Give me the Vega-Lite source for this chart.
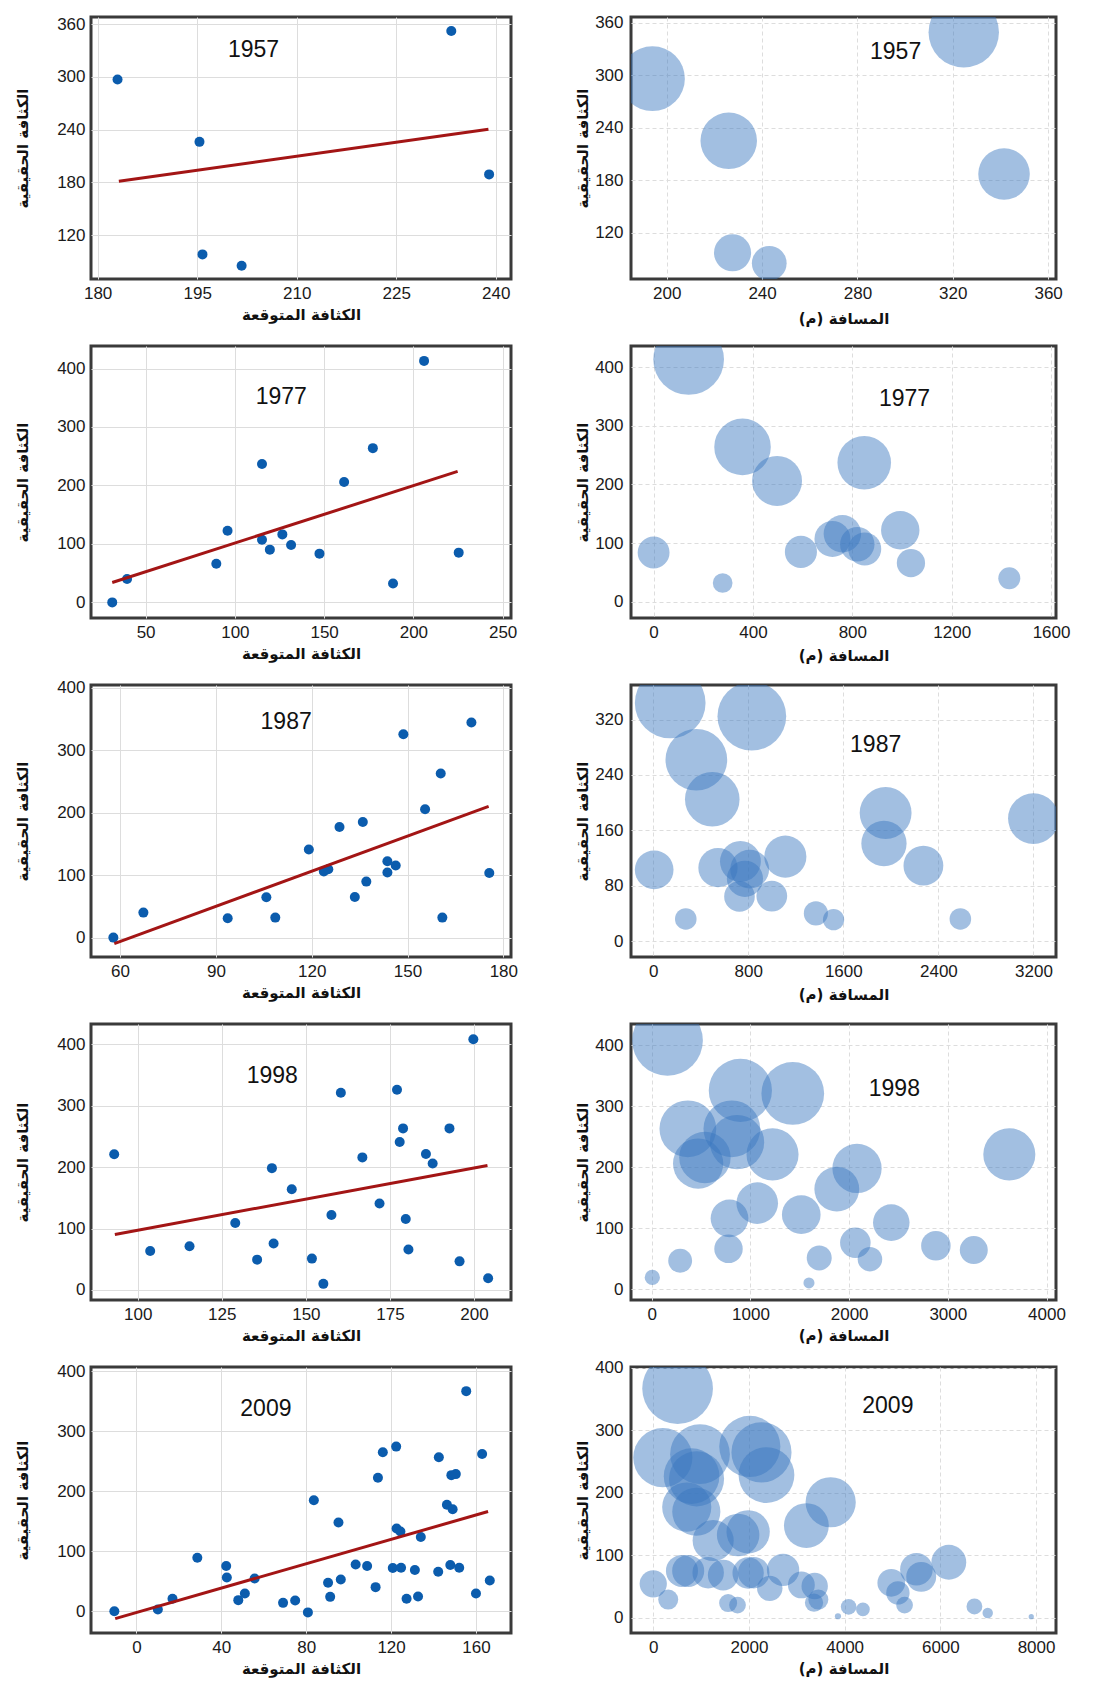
{
"$schema": "https://vega.github.io/schema/vega-lite/v6.json",
"padding": {"left": 14, "top": 12, "right": 5, "bottom": 0},
"background": "white",
"columns": 2,
"align": "each",
"bounds": "flush",
"spacing": {"row": 67, "column": 120},
"resolve": {"scale": {"size": "independent"}, "legend": {"size": "independent"}},
"config": {
  "view": {"stroke": "#3a3a3a", "strokeWidth": 3},
  "axis": {"labelFont": "Liberation Sans", "labelFontSize": 17, "labelColor": "#1a1a1a", "titleFont": "DejaVu Sans", "titleFontSize": 15, "titleFontWeight": "bold", "titleColor": "#111111", "domain": false, "ticks": false, "gridColor": "#dddddd", "gridWidth": 1, "labelPadding": 6, "labelFlush": false, "labelOverlap": false, "format": "d"},
  "axisY": {"titlePadding": 26},
  "axisX": {"titlePadding": 6},
  "text": {"fontSize": 23, "font": "Liberation Sans", "color": "#111111"}
},
"datasets": {
  "s1957": [{"expected":183.0,"actual":297},{"expected":195.35,"actual":226},{"expected":195.8,"actual":98},{"expected":201.7,"actual":85},{"expected":233.3,"actual":352},{"expected":239.0,"actual":189}],
  "r1957": [{"expected":183.2,"actual":181.3},{"expected":238.9,"actual":240.3}],
  "b1957": [{"distance":194,"actual":296},{"distance":226,"actual":225},{"distance":324.6,"actual":349},{"distance":341.5,"actual":187},{"distance":227.6,"actual":97},{"distance":243,"actual":85}],
  "s1977": [{"expected":31.3,"actual":0},{"expected":39.6,"actual":40},{"expected":89.6,"actual":66},{"expected":95.9,"actual":122.5},{"expected":115.2,"actual":236.6},{"expected":115.2,"actual":107.2},{"expected":119.6,"actual":90.2},{"expected":126.6,"actual":116.3},{"expected":131.5,"actual":98},{"expected":147.4,"actual":83.4},{"expected":161.2,"actual":206},{"expected":177.3,"actual":263.8},{"expected":188.6,"actual":32.3},{"expected":206,"actual":413},{"expected":225.4,"actual":85.1}],
  "r1977": [{"expected":31.3,"actual":34},{"expected":224.8,"actual":224}],
  "b1977": [{"distance":141,"actual":413},{"distance":358,"actual":264},{"distance":497,"actual":206},{"distance":848,"actual":237},{"distance":0,"actual":84},{"distance":278,"actual":32},{"distance":593,"actual":85},{"distance":1432,"actual":40},{"distance":1036,"actual":66},{"distance":993,"actual":122},{"distance":720,"actual":107},{"distance":760,"actual":116},{"distance":820,"actual":98},{"distance":850,"actual":90}],
  "s1987": [{"expected":57.9,"actual":0},{"expected":67.3,"actual":40},{"expected":93.7,"actual":30.9},{"expected":105.8,"actual":64.5},{"expected":108.6,"actual":32},{"expected":119.1,"actual":140.8},{"expected":123.8,"actual":105.6},{"expected":125.2,"actual":109.3},{"expected":128.7,"actual":177},{"expected":133.5,"actual":65},{"expected":136,"actual":185},{"expected":137.1,"actual":89.6},{"expected":143.7,"actual":122},{"expected":143.7,"actual":104},{"expected":146.3,"actual":115.2},{"expected":148.7,"actual":325.3},{"expected":155.5,"actual":205.3},{"expected":160.4,"actual":262.4},{"expected":160.9,"actual":32},{"expected":170,"actual":344},{"expected":175.6,"actual":103.4}],
  "r1987": [{"expected":58.2,"actual":-9.6},{"expected":175.4,"actual":210}],
  "b1987": [{"distance":143,"actual":344},{"distance":830,"actual":325},{"distance":363,"actual":262},{"distance":497,"actual":205},{"distance":1956,"actual":185},{"distance":1942,"actual":141},{"distance":3200,"actual":177},{"distance":2274,"actual":109},{"distance":1112,"actual":122},{"distance":8,"actual":103},{"distance":545,"actual":106},{"distance":734,"actual":115},{"distance":812,"actual":104},{"distance":772,"actual":90},{"distance":726,"actual":64.5},{"distance":998,"actual":65},{"distance":274,"actual":32},{"distance":1369,"actual":40},{"distance":1518,"actual":31},{"distance":2585,"actual":32}],
  "s1998": [{"expected":93,"actual":220.8},{"expected":103.7,"actual":63.5},{"expected":115.4,"actual":71.2},{"expected":129,"actual":109},{"expected":135.5,"actual":49.3},{"expected":139.9,"actual":198.3},{"expected":140.4,"actual":75.6},{"expected":145.8,"actual":163.8},{"expected":151.8,"actual":51},{"expected":155.2,"actual":9.9},{"expected":157.6,"actual":122.1},{"expected":160.4,"actual":321},{"expected":166.8,"actual":215.8},{"expected":171.9,"actual":140.7},{"expected":177.1,"actual":326},{"expected":177.9,"actual":241},{"expected":178.9,"actual":263},{"expected":179.7,"actual":115.6},{"expected":180.5,"actual":65.8},{"expected":185.7,"actual":221.3},{"expected":187.7,"actual":206},{"expected":192.7,"actual":263},{"expected":195.7,"actual":46.5},{"expected":199.8,"actual":408.2},{"expected":204.2,"actual":19.1}],
  "r1998": [{"expected":93.2,"actual":90.4},{"expected":204,"actual":202.7}],
  "b1998": [{"distance":160,"actual":408},{"distance":366,"actual":263},{"distance":898,"actual":326},{"distance":1429,"actual":321},{"distance":3623,"actual":221},{"distance":539,"actual":216},{"distance":1224,"actual":221},{"distance":2080,"actual":198},{"distance":1875,"actual":164},{"distance":1069,"actual":141},{"distance":1515,"actual":122},{"distance":788,"actual":116},{"distance":2427,"actual":109},{"distance":778,"actual":66},{"distance":2063,"actual":76},{"distance":2879,"actual":71},{"distance":3263,"actual":64},{"distance":1697,"actual":51},{"distance":2211,"actual":49},{"distance":288,"actual":46.5},{"distance":6,"actual":19},{"distance":1593,"actual":10},{"distance":812,"actual":263},{"distance":864,"actual":241},{"distance":470,"actual":206}],
  "s2009": [{"expected":-10.4,"actual":0},{"expected":10.1,"actual":2.8},{"expected":17,"actual":20.6},{"expected":28.7,"actual":89},{"expected":42.3,"actual":75.2},{"expected":42.6,"actual":56.2},{"expected":48,"actual":18.4},{"expected":51.1,"actual":29.4},{"expected":55.7,"actual":54.5},{"expected":69.1,"actual":13.9},{"expected":74.8,"actual":17.8},{"expected":80.8,"actual":-2},{"expected":83.6,"actual":184.9},{"expected":90.3,"actual":47.3},{"expected":91.3,"actual":23.9},{"expected":95.2,"actual":147.6},{"expected":96.3,"actual":52.8},{"expected":103.3,"actual":77.9},{"expected":108.7,"actual":75.2},{"expected":112.7,"actual":40.1},{"expected":113.8,"actual":222.3},{"expected":116.1,"actual":264.6},{"expected":120.8,"actual":71.9},{"expected":122.4,"actual":274.1},{"expected":122.6,"actual":137.6},{"expected":124.4,"actual":132.6},{"expected":124.7,"actual":72.4},{"expected":127.3,"actual":20.6},{"expected":131.2,"actual":68.5},{"expected":132.7,"actual":24.4},{"expected":134,"actual":123.7},{"expected":142.2,"actual":65.7},{"expected":142.5,"actual":256.3},{"expected":146.3,"actual":177.2},{"expected":147.9,"actual":76.9},{"expected":148.4,"actual":226.6},{"expected":149,"actual":169.8},{"expected":150.5,"actual":228.3},{"expected":152.1,"actual":72.4},{"expected":155.4,"actual":366.5},{"expected":160,"actual":29.4},{"expected":162.9,"actual":261.7},{"expected":166.5,"actual":51.1}],
  "r2009": [{"expected":-10,"actual":-12.3},{"expected":165.7,"actual":166}],
  "b2009": [{"distance":509,"actual":366.5},{"distance":200,"actual":256.3},{"distance":2018,"actual":274.1},{"distance":2262,"actual":264.6},{"distance":977,"actual":261.7},{"distance":2366,"actual":228.3},{"distance":801,"actual":226.6},{"distance":905,"actual":222.3},{"distance":700,"actual":177.2},{"distance":900,"actual":169.8},{"distance":3708,"actual":184.9},{"distance":3200,"actual":147.6},{"distance":1983,"actual":137.6},{"distance":1774,"actual":132.6},{"distance":1252,"actual":123.7},{"distance":6177,"actual":89},{"distance":5500,"actual":77.9},{"distance":5600,"actual":65.7},{"distance":4974,"actual":56.2},{"distance":5113,"actual":40.1},{"distance":5252,"actual":20.6},{"distance":4083,"actual":17.8},{"distance":4382,"actual":13.9},{"distance":3860,"actual":2.8},{"distance":6712,"actual":18.4},{"distance":6990,"actual":8},{"distance":7900,"actual":2},{"distance":0,"actual":54.5},{"distance":313,"actual":29.4},{"distance":730,"actual":75.2},{"distance":1148,"actual":72.4},{"distance":1461,"actual":68.5},{"distance":1983,"actual":71.9},{"distance":2435,"actual":47.3},{"distance":2713,"actual":76.9},{"distance":3096,"actual":52.8},{"distance":3374,"actual":51.1},{"distance":1565,"actual":23.9},{"distance":1761,"actual":20.6},{"distance":3360,"actual":24.4},{"distance":600,"actual":75.2},{"distance":2100,"actual":72.4},{"distance":3450,"actual":29.4}]
},
"concat": [
  {"width": 420, "height": 262,
   "layer": [
     {"data": {"name": "s1957"}, "mark": {"type": "circle", "size": 100, "color": "#0b5cad", "opacity": 1},
      "encoding": {"x": {"field": "expected", "type": "quantitative", "scale": {"domain": [179, 242.3], "nice": false, "zero": false}, "axis": {"values": [180,195,210,225,240], "title": "الكثافة المتوقعة"}},
                   "y": {"field": "actual", "type": "quantitative", "scale": {"domain": [70, 368], "nice": false, "zero": false}, "axis": {"values": [120,180,240,300,360], "title": "الكثافة الحقيقية"}}}},
     {"data": {"name": "r1957"}, "mark": {"type": "line", "color": "#a31515", "strokeWidth": 3},
      "encoding": {"x": {"field": "expected", "type": "quantitative", "title": "الكثافة المتوقعة"}, "y": {"field": "actual", "type": "quantitative", "title": "الكثافة الحقيقية"}}},
     {"data": {"values": [{"label": "1957"}]}, "mark": {"type": "text"},
      "encoding": {"x": {"datum": 203.5, "type": "quantitative", "title": "الكثافة المتوقعة"}, "y": {"datum": 331, "type": "quantitative", "title": "الكثافة الحقيقية"}, "text": {"field": "label"}}}
   ]},
  {"width": 425, "height": 262,
   "layer": [
     {"data": {"name": "b1957"}, "mark": {"type": "circle", "color": "#3a78c0", "opacity": 0.47, "clip": true},
      "encoding": {"x": {"field": "distance", "type": "quantitative", "scale": {"domain": [185, 363.3], "nice": false, "zero": false}, "axis": {"values": [200,240,280,320,360], "title": "‏المسافة (م)‏", "gridDash": [4,3], "titlePadding": 10}},
                   "y": {"field": "actual", "type": "quantitative", "scale": {"domain": [67, 366.5], "nice": false, "zero": false}, "axis": {"values": [120,180,240,300,360], "title": "الكثافة الحقيقية", "gridDash": [4,3], "titlePadding": 4, "labelPadding": 8}},
                   "size": {"field": "actual", "type": "quantitative", "scale": {"domain": [0, 352], "range": [0, 5000]}, "legend": null}}},
     {"data": {"values": [{"label": "1957"}]}, "mark": {"type": "text"},
      "encoding": {"x": {"datum": 296, "type": "quantitative", "title": "‏المسافة (م)‏"}, "y": {"datum": 326, "type": "quantitative", "title": "الكثافة الحقيقية"}, "text": {"field": "label"}}}
   ]},
  {"width": 420, "height": 272,
   "layer": [
     {"data": {"name": "s1977"}, "mark": {"type": "circle", "size": 100, "color": "#0b5cad", "opacity": 1},
      "encoding": {"x": {"field": "expected", "type": "quantitative", "scale": {"domain": [19.4, 254.7], "nice": false, "zero": false}, "axis": {"values": [50,100,150,200,250], "title": "الكثافة المتوقعة"}},
                   "y": {"field": "actual", "type": "quantitative", "scale": {"domain": [-26.7, 438.5], "nice": false, "zero": false}, "axis": {"values": [0,100,200,300,400], "title": "الكثافة الحقيقية"}}}},
     {"data": {"name": "r1977"}, "mark": {"type": "line", "color": "#a31515", "strokeWidth": 3},
      "encoding": {"x": {"field": "expected", "type": "quantitative", "title": "الكثافة المتوقعة"}, "y": {"field": "actual", "type": "quantitative", "title": "الكثافة الحقيقية"}}},
     {"data": {"values": [{"label": "1977"}]}, "mark": {"type": "text"},
      "encoding": {"x": {"datum": 126, "type": "quantitative", "title": "الكثافة المتوقعة"}, "y": {"datum": 352, "type": "quantitative", "title": "الكثافة الحقيقية"}, "text": {"field": "label"}}}
   ]},
  {"width": 425, "height": 272,
   "layer": [
     {"data": {"name": "b1977"}, "mark": {"type": "circle", "color": "#3a78c0", "opacity": 0.47, "clip": true},
      "encoding": {"x": {"field": "distance", "type": "quantitative", "scale": {"domain": [-91, 1620], "nice": false, "zero": false}, "axis": {"values": [0,400,800,1200,1600], "title": "‏المسافة (م)‏", "gridDash": [4,3], "titlePadding": 8}},
                   "y": {"field": "actual", "type": "quantitative", "scale": {"domain": [-27.7, 436], "nice": false, "zero": false}, "axis": {"values": [0,100,200,300,400], "title": "الكثافة الحقيقية", "gridDash": [4,3], "titlePadding": 4, "labelPadding": 8}},
                   "size": {"field": "actual", "type": "quantitative", "scale": {"domain": [0, 413], "range": [0, 5000]}, "legend": null}}},
     {"data": {"values": [{"label": "1977"}]}, "mark": {"type": "text"},
      "encoding": {"x": {"datum": 1010, "type": "quantitative", "title": "‏المسافة (م)‏"}, "y": {"datum": 345, "type": "quantitative", "title": "الكثافة الحقيقية"}, "text": {"field": "label"}}}
   ]},
  {"width": 420, "height": 272,
   "layer": [
     {"data": {"name": "s1987"}, "mark": {"type": "circle", "size": 100, "color": "#0b5cad", "opacity": 1},
      "encoding": {"x": {"field": "expected", "type": "quantitative", "scale": {"domain": [50.9, 182.4], "nice": false, "zero": false}, "axis": {"values": [60,90,120,150,180], "title": "الكثافة المتوقعة"}},
                   "y": {"field": "actual", "type": "quantitative", "scale": {"domain": [-31, 404], "nice": false, "zero": false}, "axis": {"values": [0,100,200,300,400], "title": "الكثافة الحقيقية"}}}},
     {"data": {"name": "r1987"}, "mark": {"type": "line", "color": "#a31515", "strokeWidth": 3},
      "encoding": {"x": {"field": "expected", "type": "quantitative", "title": "الكثافة المتوقعة"}, "y": {"field": "actual", "type": "quantitative", "title": "الكثافة الحقيقية"}}},
     {"data": {"values": [{"label": "1987"}]}, "mark": {"type": "text"},
      "encoding": {"x": {"datum": 112, "type": "quantitative", "title": "الكثافة المتوقعة"}, "y": {"datum": 345, "type": "quantitative", "title": "الكثافة الحقيقية"}, "text": {"field": "label"}}}
   ]},
  {"width": 425, "height": 272,
   "layer": [
     {"data": {"name": "b1987"}, "mark": {"type": "circle", "color": "#3a78c0", "opacity": 0.47, "clip": true},
      "encoding": {"x": {"field": "distance", "type": "quantitative", "scale": {"domain": [-187, 3390], "nice": false, "zero": false}, "axis": {"values": [0,800,1600,2400,3200], "title": "‏المسافة (م)‏", "gridDash": [4,3], "titlePadding": 8}},
                   "y": {"field": "actual", "type": "quantitative", "scale": {"domain": [-23, 370], "nice": false, "zero": false}, "axis": {"values": [0,80,160,240,320], "title": "الكثافة الحقيقية", "gridDash": [4,3], "titlePadding": 4, "labelPadding": 8}},
                   "size": {"field": "actual", "type": "quantitative", "scale": {"domain": [0, 344], "range": [0, 5000]}, "legend": null}}},
     {"data": {"values": [{"label": "1987"}]}, "mark": {"type": "text"},
      "encoding": {"x": {"datum": 1872, "type": "quantitative", "title": "‏المسافة (م)‏"}, "y": {"datum": 283, "type": "quantitative", "title": "الكثافة الحقيقية"}, "text": {"field": "label"}}}
   ]},
  {"width": 420, "height": 276,
   "layer": [
     {"data": {"name": "s1998"}, "mark": {"type": "circle", "size": 100, "color": "#0b5cad", "opacity": 1},
      "encoding": {"x": {"field": "expected", "type": "quantitative", "scale": {"domain": [86.1, 211], "nice": false, "zero": false}, "axis": {"values": [100,125,150,175,200], "title": "الكثافة المتوقعة"}},
                   "y": {"field": "actual", "type": "quantitative", "scale": {"domain": [-16.4, 433], "nice": false, "zero": false}, "axis": {"values": [0,100,200,300,400], "title": "الكثافة الحقيقية"}}}},
     {"data": {"name": "r1998"}, "mark": {"type": "line", "color": "#a31515", "strokeWidth": 3},
      "encoding": {"x": {"field": "expected", "type": "quantitative", "title": "الكثافة المتوقعة"}, "y": {"field": "actual", "type": "quantitative", "title": "الكثافة الحقيقية"}}},
     {"data": {"values": [{"label": "1998"}]}, "mark": {"type": "text"},
      "encoding": {"x": {"datum": 140, "type": "quantitative", "title": "الكثافة المتوقعة"}, "y": {"datum": 348, "type": "quantitative", "title": "الكثافة الحقيقية"}, "text": {"field": "label"}}}
   ]},
  {"width": 425, "height": 276,
   "layer": [
     {"data": {"name": "b1998"}, "mark": {"type": "circle", "color": "#3a78c0", "opacity": 0.47, "clip": true},
      "encoding": {"x": {"field": "distance", "type": "quantitative", "scale": {"domain": [-210, 4096], "nice": false, "zero": false}, "axis": {"values": [0,1000,2000,3000,4000], "title": "‏المسافة (م)‏", "gridDash": [4,3]}},
                   "y": {"field": "actual", "type": "quantitative", "scale": {"domain": [-18, 435], "nice": false, "zero": false}, "axis": {"values": [0,100,200,300,400], "title": "الكثافة الحقيقية", "gridDash": [4,3], "titlePadding": 4, "labelPadding": 8}},
                   "size": {"field": "actual", "type": "quantitative", "scale": {"domain": [0, 408], "range": [0, 5000]}, "legend": null}}},
     {"data": {"values": [{"label": "1998"}]}, "mark": {"type": "text"},
      "encoding": {"x": {"datum": 2458, "type": "quantitative", "title": "‏المسافة (م)‏"}, "y": {"datum": 329, "type": "quantitative", "title": "الكثافة الحقيقية"}, "text": {"field": "label"}}}
   ]},
  {"width": 420, "height": 266,
   "layer": [
     {"data": {"name": "s2009"}, "mark": {"type": "circle", "size": 100, "color": "#0b5cad", "opacity": 1},
      "encoding": {"x": {"field": "expected", "type": "quantitative", "scale": {"domain": [-21.4, 176.5], "nice": false, "zero": false}, "axis": {"values": [0,40,80,120,160], "title": "الكثافة المتوقعة"}},
                   "y": {"field": "actual", "type": "quantitative", "scale": {"domain": [-36.3, 406.7], "nice": false, "zero": false}, "axis": {"values": [0,100,200,300,400], "title": "الكثافة الحقيقية"}}}},
     {"data": {"name": "r2009"}, "mark": {"type": "line", "color": "#a31515", "strokeWidth": 3},
      "encoding": {"x": {"field": "expected", "type": "quantitative", "title": "الكثافة المتوقعة"}, "y": {"field": "actual", "type": "quantitative", "title": "الكثافة الحقيقية"}}},
     {"data": {"values": [{"label": "2009"}]}, "mark": {"type": "text"},
      "encoding": {"x": {"datum": 61, "type": "quantitative", "title": "الكثافة المتوقعة"}, "y": {"datum": 337, "type": "quantitative", "title": "الكثافة الحقيقية"}, "text": {"field": "label"}}}
   ]},
  {"width": 425, "height": 266,
   "layer": [
     {"data": {"name": "b2009"}, "mark": {"type": "circle", "color": "#3a78c0", "opacity": 0.47, "clip": true},
      "encoding": {"x": {"field": "distance", "type": "quantitative", "scale": {"domain": [-465, 8417], "nice": false, "zero": false}, "axis": {"values": [0,2000,4000,6000,8000], "title": "‏المسافة (م)‏", "gridDash": [4,3]}},
                   "y": {"field": "actual", "type": "quantitative", "scale": {"domain": [-24, 401], "nice": false, "zero": false}, "axis": {"values": [0,100,200,300,400], "title": "الكثافة الحقيقية", "gridDash": [4,3], "titlePadding": 4, "labelPadding": 8}},
                   "size": {"field": "actual", "type": "quantitative", "scale": {"domain": [0, 366.5], "range": [0, 5000]}, "legend": null}}},
     {"data": {"values": [{"label": "2009"}]}, "mark": {"type": "text"},
      "encoding": {"x": {"datum": 4903, "type": "quantitative", "title": "‏المسافة (م)‏"}, "y": {"datum": 339, "type": "quantitative", "title": "الكثافة الحقيقية"}, "text": {"field": "label"}}}
   ]}
]
}
